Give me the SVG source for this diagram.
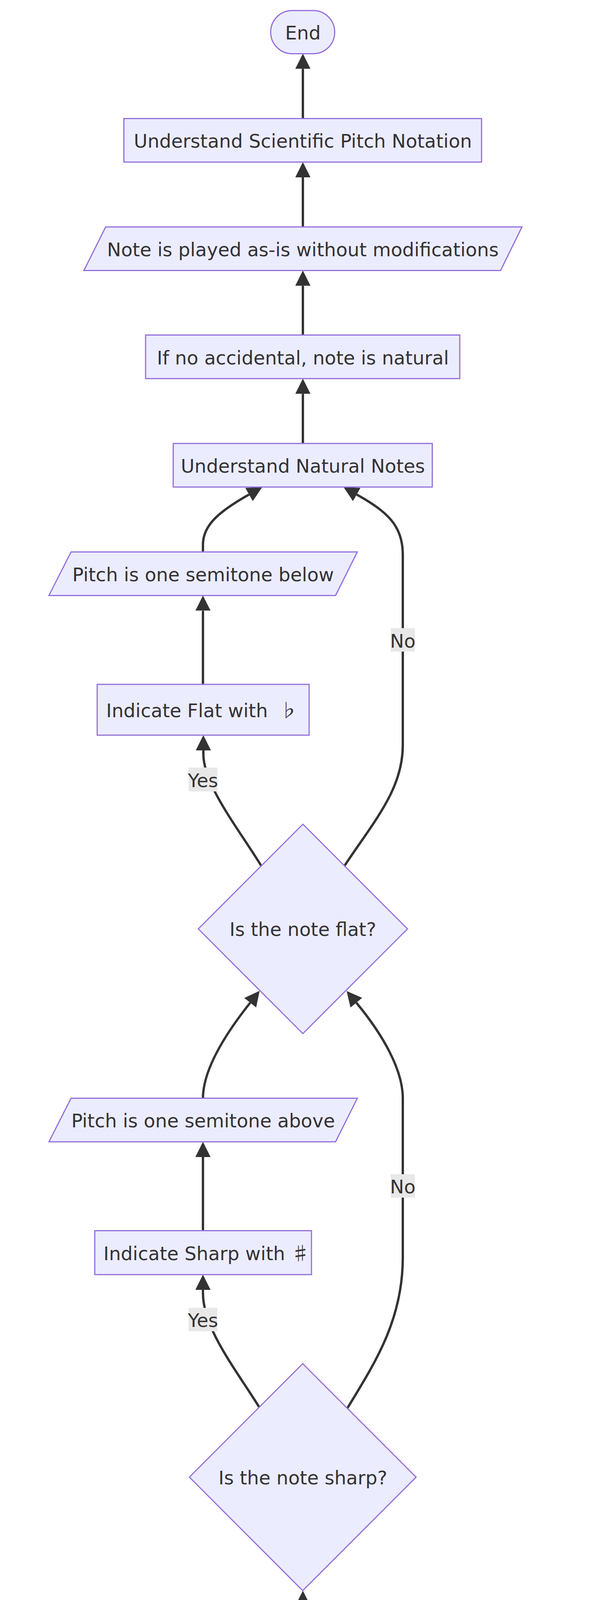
<svg xmlns="http://www.w3.org/2000/svg" width="1568" height="6104" viewBox="0 0 1568 6104">
<defs>
<marker id="arrow" viewBox="0 0 10 10" refX="0" refY="5" markerUnits="userSpaceOnUse" markerWidth="39" markerHeight="39" orient="auto">
<path d="M0,0 L10,5 L0,10 z" fill="#333333"/>
</marker>
<style>
.node rect, .node polygon { fill: #ECECFF; stroke: #9370DB; stroke-width: 3; }
.node text, .lbl text { font-family: "DejaVu Sans", Verdana, sans-serif; font-size: 48px; fill: #333333; text-anchor: middle; }
.node text.left { text-anchor: start; }
.sym { font-family: "Noto Sans CJK JP", "DejaVu Sans", sans-serif; }
.edge { fill: none; stroke: #333333; stroke-width: 6; marker-end: url(#arrow); }
.lbl rect { fill: #e8e8e8; stroke: none; }
</style>
</defs>
<rect x="0" y="0" width="1568" height="6104" fill="#ffffff"/>
<g id="connectors">
<path class="edge" d="M776 5902 L776 5775"/>
<path class="edge" d="M776 5624.6 L776 5497.4"/>
<path class="edge" d="M776 5347 L776 5219.8"/>
<path class="edge" d="M776 5069.4 L776 4942.2"/>
<path class="edge" d="M776 4791.8 L776 4665"/>
<path class="edge" d="M776 4514 L776 4387.4"/>
<path class="edge" d="M776 4237 L776 4111"/>
<path class="edge" d="M664 3602 C600 3500 520 3400 520 3310 L520 3302"/>
<path class="edge" d="M890 3605 C960 3490 1032 3380 1032 3219 L1032 2811 C1032 2740 982 2650 913 2567"/>
<path class="edge" d="M520 3150.5 L520 2962"/>
<path class="edge" d="M520 2811.6 C520 2740 575 2650 641 2567"/>
<path class="edge" d="M669 2216 C610 2120 521 2010 521 1930 L521 1921"/>
<path class="edge" d="M883 2216 C960 2100 1032 2020 1032 1908 L1032 1420 C1032 1345 992 1310 914 1266"/>
<path class="edge" d="M520 1752 L520 1563.4"/>
<path class="edge" d="M520 1413 L520 1394 C520 1345 560 1310 638 1266"/>
<path class="edge" d="M776 1135.3 L776 1008.2"/>
<path class="edge" d="M776 857.7 L776 731.5"/>
<path class="edge" d="M776 581 L776 454"/>
<path class="edge" d="M776 303.5 L776 176.3"/>
</g>
<g id="edge-labels">
<g class="lbl" id="label-flat-yes"><rect x="483" y="1965" width="74" height="61"/><text x="520" y="2014.5">Yes</text></g>
<g class="lbl" id="label-flat-no"><rect x="1001" y="1608" width="62" height="60"/><text x="1032" y="1657.5">No</text></g>
<g class="lbl" id="label-sharp-yes"><rect x="483" y="3348" width="74" height="60"/><text x="520" y="3397">Yes</text></g>
<g class="lbl" id="label-sharp-no"><rect x="1001" y="3006" width="62" height="60"/><text x="1032" y="3055">No</text></g>
</g>
<g class="node" id="node-end"><rect x="693.5" y="27" width="164" height="110.5" rx="55" ry="55"/><text x="776" y="101">End</text></g>
<g class="node" id="node-uspn"><rect x="317.4" y="303.5" width="916.4" height="111.4"/><text x="776" y="378">Understand Scientific Pitch Notation</text></g>
<g class="node" id="node-played"><polygon points="270.6,581 1337.3,581 1282.6,692.5 215,692.5"/><text x="776" y="656">Note is played as-is without modifications</text></g>
<g class="node" id="node-ifno"><rect x="373" y="857.7" width="805" height="111.5"/><text x="776" y="932.5">If no accidental, note is natural</text></g>
<g class="node" id="node-natural"><rect x="443.8" y="1135.3" width="663.7" height="111.5"/><text x="776" y="1210">Understand Natural Notes</text></g>
<g class="node" id="node-below"><polygon points="182,1413 915.4,1413 859.7,1524.4 125.4,1524.4"/><text x="520.4" y="1488">Pitch is one semitone below</text></g>
<g class="node" id="node-indflat"><rect x="249" y="1752" width="543" height="130"/><text class="left" x="272" y="1836">Indicate Flat with <tspan class="sym" dx="14">♭</tspan></text></g>
<g class="node" id="node-isflat"><polygon points="776,2110 1044,2378 776,2646 508,2378"/><text x="776" y="2396">Is the note flat?</text></g>
<g class="node" id="node-above"><polygon points="182,2811.6 915.4,2811.6 859.7,2923 125.4,2923"/><text x="520.4" y="2886">Pitch is one semitone above</text></g>
<g class="node" id="node-indsharp"><rect x="242.8" y="3150.5" width="555.2" height="112.5"/><text class="left" x="265" y="3226">Indicate Sharp with <tspan class="sym">♯</tspan></text></g>
<g class="node" id="node-issharp"><polygon points="775.6,3491 1066,3781.4 775.6,4072 485.2,3781.4"/><text x="776" y="3800">Is the note sharp?</text></g>
<g class="node" id="node-accidentals"><rect x="471" y="4237" width="609.6" height="111.4"/><text x="776" y="4312">Understand Accidentals</text></g>
<g class="node" id="node-c4"><polygon points="83,4514 1525.4,4514 1469.7,4626 25.5,4626"/><text x="775.5" y="4589">C4 Represents Fourth Octave, G5 Represents Fifth Octave</text></g>
<g class="node" id="node-number"><rect x="450.7" y="4791.8" width="649.8" height="111.4"/><text x="776" y="4866.5">Number Indicates Octave</text></g>
<g class="node" id="node-assign"><rect x="368.2" y="5069.4" width="815.8" height="111.4"/><text x="776" y="5144">Assign Each Note A Letter A to G</text></g>
<g class="node" id="node-select"><polygon points="438.8,5347 1167.2,5347 1112.4,5458.4 384,5458.4"/><text x="775.6" y="5422">Select note C4 as reference</text></g>
<g class="node" id="node-basic"><rect x="392" y="5624.6" width="768.2" height="111.4"/><text x="776" y="5699">Understand Basic Components</text></g>
<g class="node" id="node-start"><rect x="678.6" y="5902" width="193" height="111.7" rx="55.8" ry="55.8"/><text x="775.1" y="5977">Start</text></g>
</svg>
